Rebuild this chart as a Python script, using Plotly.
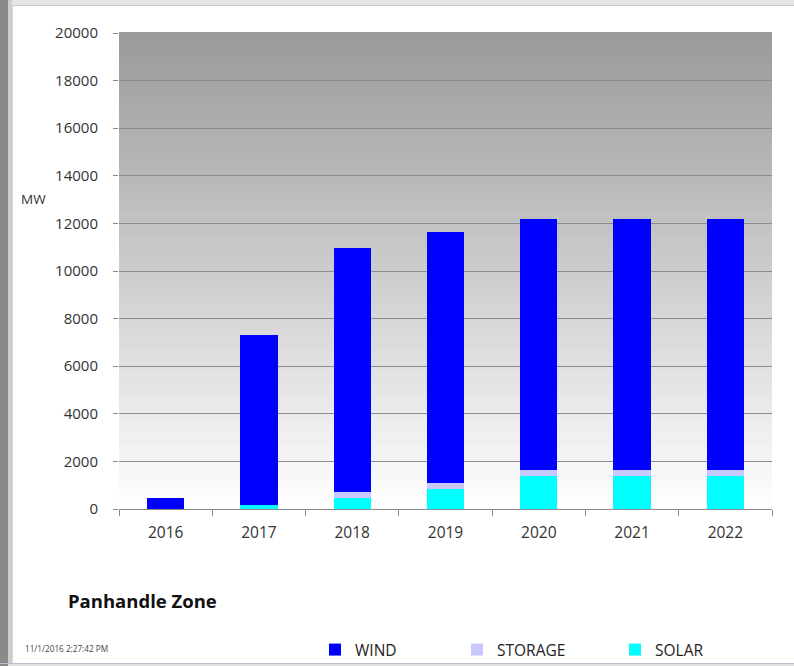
import plotly.graph_objects as go

years = ["2016", "2017", "2018", "2019", "2020", "2021", "2022"]
solar = [0, 180, 450, 850, 1370, 1370, 1370]
storage = [0, 0, 250, 250, 250, 250, 250]
wind = [450, 7120, 10250, 10530, 10560, 10560, 10560]
y_ticks = list(range(0, 20001, 2000))

W, H = 794, 666
L, R, T, B = 119, 772, 33, 509
FONT = "Open Sans"

fig = go.Figure()
fig.add_trace(go.Bar(x=years, y=solar, name="SOLAR", marker=dict(color="#00ffff", line=dict(width=0)),
                     legend="legend3"))
fig.add_trace(go.Bar(x=years, y=storage, name="STORAGE", marker=dict(color="#c8c8ff", line=dict(width=0)),
                     legend="legend2"))
fig.add_trace(go.Bar(x=years, y=wind, name="WIND", marker=dict(color="#0000ff", line=dict(width=0)),
                     legend="legend"))

def px_x(px):
    return (px - L) / (R - L)

def px_y(py):
    return (B - py) / (B - T)

shapes = []
# gradient background of plot area
n = 80
for i in range(n):
    f0 = i / n
    f1 = (i + 1) / n
    fm = (f0 + f1) / 2
    c = int(round(255 - fm * (255 - 154)))
    shapes.append(dict(type="rect", xref="x domain", yref="y domain", x0=0, x1=1, y0=f0, y1=f1 + 0.002,
                       fillcolor=f"rgb({c},{c},{c})", line=dict(width=0), layer="below"))

# outer frame
frame = [
    (0, 0, W, 5, "#e4e4e4"),
    (0, 5, W, 6, "#c8c8c8"),
    (0, 0, 8, H, "#8a8a8a"),
    (8, 0, 12, H, "#cdcdcd"),
    (12, 6, 13, 663, "#d6d6d6"),
    (0, 663, W, 664, "#b8c2d0"),
    (8, 664, W, H, "#e0e0e0"),
]
for x0, y0, x1, y1, col in frame:
    shapes.append(dict(type="rect", xref="paper", yref="paper", x0=px_x(x0), x1=px_x(x1),
                       y0=px_y(y1), y1=px_y(y0), fillcolor=col, line=dict(width=0), layer="above"))

leg_common = dict(orientation="h", xref="container", yref="container", yanchor="middle",
                  xanchor="left", bgcolor="rgba(0,0,0,0)", font=dict(family=FONT, size=15.5, color="#222"),
                  itemwidth=30, tracegroupgap=0, visible=True)

fig.update_layout(
    width=W, height=H,
    margin=dict(l=L, r=W - R, t=T, b=H - B),
    paper_bgcolor="white",
    plot_bgcolor="white",
    barmode="stack",
    bargap=0.6,
    showlegend=True,
    font=dict(family=FONT, size=14, color="#333"),
    shapes=shapes,
    legend=dict(x=315 / W, y=1 - 650 / H, **leg_common),
    legend2=dict(x=457 / W, y=1 - 650 / H, **leg_common),
    legend3=dict(x=615 / W, y=1 - 650 / H, **leg_common),
    xaxis=dict(type="category", categoryorder="array", categoryarray=years,
               showline=True, linecolor="#8a8a8a", linewidth=1,
               ticks="outside", tickson="boundaries", ticklen=6, tickcolor="#8a8a8a",
               ticklabelstandoff=9,
               showgrid=False, tickfont=dict(size=15.5, color="#333"), fixedrange=True),
    yaxis=dict(range=[0, 20000], tickvals=y_ticks, ticktext=[str(v) for v in y_ticks],
               showgrid=True, gridcolor="#8c8c8c", gridwidth=1, zeroline=False,
               showline=False, ticks="outside", ticklen=5, tickcolor="#8a8a8a",
               ticklabelstandoff=12,
               tickfont=dict(size=15, color="#333"), fixedrange=True),
    annotations=[
        dict(text="MW", xref="paper", yref="paper", x=px_x(19), y=px_y(199), xanchor="left",
             yanchor="middle", showarrow=False, font=dict(size=13.5, color="#333")),
        dict(text="<b>Panhandle Zone</b>", xref="paper", yref="paper", x=px_x(66), y=px_y(600),
             xanchor="left", yanchor="middle", showarrow=False, font=dict(size=18.5, color="#111")),
        dict(text="11/1/2016 2:27:42 PM", xref="paper", yref="paper", x=px_x(23), y=px_y(648),
             xanchor="left", yanchor="middle", showarrow=False, font=dict(size=8.2, color="#444")),
    ],
)

fig.write_html("out.html", config={"displayModeBar": False},
               post_script="document.body.style.margin='0';document.body.style.overflow='hidden';")
